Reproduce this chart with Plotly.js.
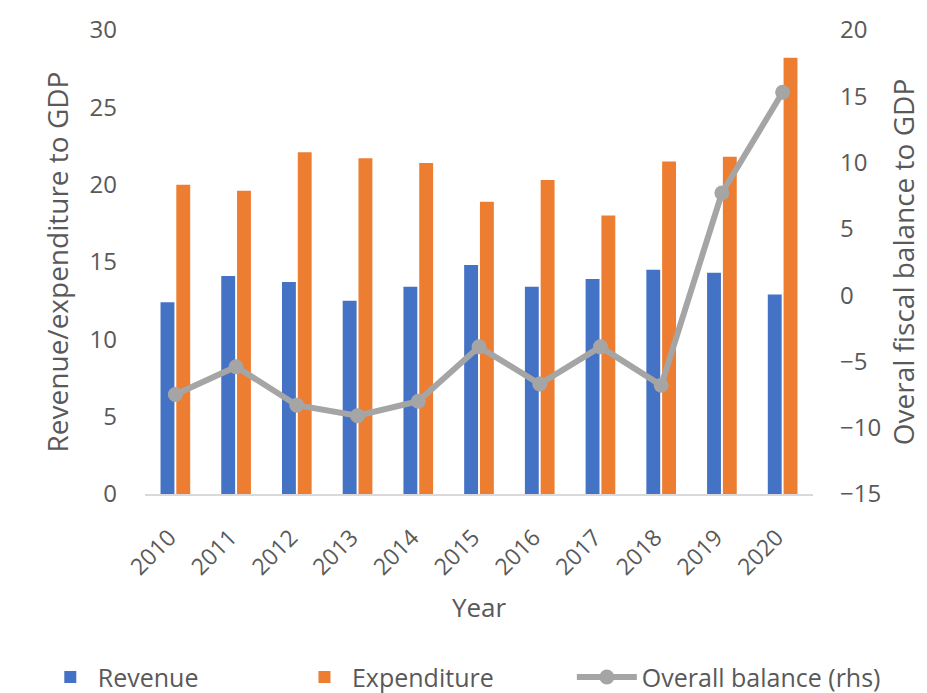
<!DOCTYPE html>
<html>
<head>
<meta charset="utf-8">
<script src="https://cdn.plot.ly/plotly-3.0.1.min.js"></script>
<style>
html,body{margin:0;padding:0;background:#fff;}
#chart{width:927px;height:693px;}
</style>
</head>
<body>
<div id="chart"></div>
<script>
var years = ['2010','2011','2012','2013','2014','2015','2016','2017','2018','2019','2020'];
var revenue = [12.4, 14.1, 13.7, 12.5, 13.4, 14.8, 13.4, 13.9, 14.5, 14.3, 12.9];
var expenditure = [20.0, 19.6, 22.1, 21.7, 21.4, 18.9, 20.3, 18.0, 21.5, 21.8, 28.2];
var balance = [-7.5, -5.4, -8.3, -9.1, -8.0, -3.9, -6.7, -3.9, -6.8, 7.7, 15.3];

var FONT = '"Open Sans", Lato, sans-serif';
var GREY = '#595959';

var data = [
  {type:'bar', name:'Revenue', x:years, y:revenue, marker:{color:'#4472C4'}, yaxis:'y', legend:'legend'},
  {type:'bar', name:'Expenditure', x:years, y:expenditure, marker:{color:'#ED7D31'}, yaxis:'y', legend:'legend2'},
  {type:'scatter', mode:'lines+markers', name:'Overall balance (rhs)', x:years, y:balance, yaxis:'y2', legend:'legend3',
   line:{color:'#A5A5A5', width:6}, marker:{color:'#A5A5A5', size:15}}
];

function leg(x, iw) {
  return {orientation:'h', x:x, xanchor:'left', y:-0.395, yanchor:'middle',
          font:{size:25, color:GREY}, itemwidth:iw, bgcolor:'rgba(0,0,0,0)'};
}

var layout = {
  width:927, height:693,
  margin:{l:145, r:114, t:30, b:199, autoexpand:false},
  paper_bgcolor:'#fff', plot_bgcolor:'#fff',
  font:{family:FONT, color:GREY, size:22},
  barmode:'group', bargap:0.48, bargroupgap:0.12,
  showlegend:true,
  legend:leg(-0.153, 45),
  legend2:leg(0.2275, 45),
  legend3:leg(0.639, 60),
  xaxis:{type:'category', range:[-0.5, 10.5], showline:true, linecolor:'#D9D9D9', linewidth:2, showgrid:false,
         ticks:'', tickangle:-45, tickfont:{size:23, color:GREY}, ticklabelstandoff:19, ticklabelshift:-6,
         title:{text:'Year', font:{size:26, color:GREY}, standoff:18}, automargin:false},
  yaxis:{range:[0,30], dtick:5, showgrid:false, zeroline:false, showline:false, ticks:'',
         tickfont:{size:24, color:GREY}, ticklabelstandoff:27,
         title:{text:'Revenue/expenditure to GDP', font:{size:28, color:GREY}, standoff:12}, automargin:false},
  yaxis2:{range:[-15,20], dtick:5, overlaying:'y', side:'right', showgrid:false, zeroline:false, showline:false,
          ticks:'', tickfont:{size:24, color:GREY}, ticklabelstandoff:26,
          title:{text:'Overal fiscal balance to GDP', font:{size:28, color:GREY}, standoff:14}, automargin:false}
};

Plotly.newPlot('chart', data, layout, {displayModeBar:false, staticPlot:true});
</script>
</body>
</html>
